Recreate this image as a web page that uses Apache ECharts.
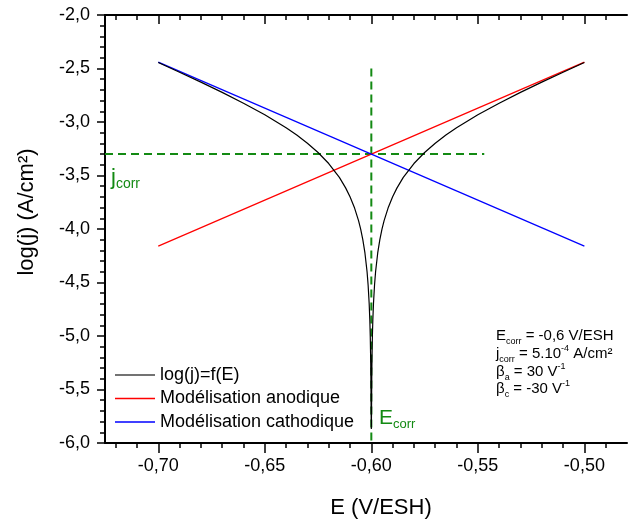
<!DOCTYPE html>
<html>
<head>
<meta charset="utf-8">
<script src="https://cdn.jsdelivr.net/npm/echarts@6/dist/echarts.min.js"></script>
<style>
html,body{margin:0;padding:0;background:#fff;}
#c{width:628px;height:520px;}
</style>
</head>
<body>
<div id="c"></div>
<script>
// ---- data ----
var xMajorTicks = [-0.70, -0.65, -0.60, -0.55, -0.50];
var xMinorTicks = [-0.72, -0.71, -0.69, -0.68, -0.67, -0.66, -0.64, -0.63, -0.62, -0.61,
                   -0.59, -0.58, -0.57, -0.56, -0.54, -0.53, -0.52, -0.51, -0.49];
var seriesNames = ['log(j)=f(E)', 'Modélisation anodique', 'Modélisation cathodique'];

var eBlack = [-0.70, -0.69, -0.68, -0.67, -0.66, -0.65, -0.64, -0.635, -0.63, -0.625,
              -0.62, -0.615, -0.612, -0.61, -0.608, -0.606, -0.605, -0.604, -0.603, -0.602,
              -0.6015, -0.601, -0.6007, -0.6005, -0.6003, -0.6002, -0.6001, -0.6,
              -0.5999, -0.5998, -0.5997, -0.5995, -0.5993, -0.599, -0.5985, -0.598, -0.597,
              -0.596, -0.595, -0.594, -0.592, -0.59, -0.588, -0.585, -0.58, -0.575,
              -0.57, -0.565, -0.56, -0.55, -0.54, -0.53, -0.52, -0.51, -0.50];
var logBlack = [-2.444, -2.535, -2.627, -2.723, -2.824, -2.932, -3.054, -3.122, -3.198, -3.285,
                -3.388, -3.518, -3.618, -3.698, -3.796, -3.922, -4.002, -4.099, -4.224, -4.400,
                -4.525, -4.701, -4.856, -5.002, -5.224, -5.400, -5.701, -5.870,
                -5.701, -5.400, -5.224, -5.002, -4.856, -4.701, -4.525, -4.400, -4.224,
                -4.099, -4.002, -3.922, -3.796, -3.698, -3.618, -3.518, -3.388, -3.285,
                -3.198, -3.122, -3.054, -2.932, -2.824, -2.723, -2.627, -2.535, -2.444];

var eLines = [-0.70, -0.50];
var logAnodic = [-4.16, -2.44];
var logCathodic = [-2.44, -4.16];

var eCorr = -0.60;
var logJcorr = -3.30;
var hDashE = [-0.725, -0.547];
var vDashLog = [-2.50, -6.00];

function pairs(xs, ys){ return xs.map(function(x,i){ return [x, ys[i]]; }); }

var FONT = 'Liberation Sans, Arial, sans-serif';
var GREEN = '#138a13';
var chart = echarts.init(document.getElementById('c'));

var baseX = { type:'value', min:-0.725, max:-0.48, splitLine:{show:false} };
function ax(o){ return Object.assign({}, baseX, o); }

chart.setOption({
  animation:false,
  backgroundColor:'#fff',
  grid:{ left:105, top:15, width:522, height:428, containLabel:false },
  xAxis:[
    ax({ position:'bottom',
         axisLine:{ show:true, onZero:false, lineStyle:{ color:'#000', width:2 } },
         axisTick:{ show:true, inside:false, length:10, customValues:xMajorTicks, lineStyle:{ color:'#000', width:1.5 } },
         axisLabel:{ show:true, customValues:xMajorTicks, margin:14, color:'#000', fontSize:18, fontFamily:FONT,
                     formatter:function(v){ return v.toFixed(2).replace('.', ','); } } }),
    ax({ position:'bottom',
         axisLine:{ show:false, onZero:false },
         axisTick:{ show:true, inside:false, length:5, customValues:xMinorTicks, lineStyle:{ color:'#000', width:1.5 } },
         axisLabel:{ show:false } }),
    ax({ position:'top',
         axisLine:{ show:true, onZero:false, lineStyle:{ color:'#000', width:2 } },
         axisTick:{ show:true, inside:true, length:9, customValues:xMajorTicks, lineStyle:{ color:'#000', width:1.5 } },
         axisLabel:{ show:false } }),
    ax({ position:'top',
         axisLine:{ show:false, onZero:false },
         axisTick:{ show:true, inside:true, length:5, customValues:xMinorTicks, lineStyle:{ color:'#000', width:1.5 } },
         axisLabel:{ show:false } })
  ],
  yAxis:[{
    type:'value', min:-6, max:-2, interval:0.5, position:'left',
    splitLine:{ show:false },
    axisLine:{ show:true, onZero:false, lineStyle:{ color:'#000', width:2 } },
    axisTick:{ show:true, inside:false, length:8, lineStyle:{ color:'#000', width:1.5 } },
    minorTick:{ show:true, splitNumber:5, length:5, lineStyle:{ color:'#000', width:1.5 } },
    axisLabel:{ margin:15, color:'#000', fontSize:18, fontFamily:FONT,
                formatter:function(v){ return v.toFixed(1).replace('.', ','); } }
  }],
  legend:{
    data:seriesNames.map(function(n){ return { name:n, icon:'rect' }; }),
    orient:'vertical', left:115, top:366, padding:0,
    itemWidth:40, itemHeight:1.5, itemGap:5.5,
    textStyle:{ color:'#000', fontSize:18, fontFamily:FONT }
  },
  series:[
    { name:'hdash', type:'line', xAxisIndex:0, yAxisIndex:0, data:pairs(hDashE, [logJcorr, logJcorr]),
      symbol:'none', silent:true, lineStyle:{ color:GREEN, width:2, type:[8,5] }, z:1 },
    { name:'vdash', type:'line', xAxisIndex:0, yAxisIndex:0, data:pairs([eCorr, eCorr], vDashLog),
      symbol:'none', silent:true, lineStyle:{ color:GREEN, width:2, type:[8,5] }, z:1 },
    { name:seriesNames[0], type:'line', xAxisIndex:0, yAxisIndex:0, data:pairs(eBlack, logBlack),
      symbol:'none', lineStyle:{ color:'#000', width:1.2 }, itemStyle:{ color:'#444' }, z:3 },
    { name:seriesNames[1], type:'line', xAxisIndex:0, yAxisIndex:0, data:pairs(eLines, logAnodic),
      symbol:'none', lineStyle:{ color:'#ff0000', width:1.2 }, itemStyle:{ color:'#ff0000' }, z:2 },
    { name:seriesNames[2], type:'line', xAxisIndex:0, yAxisIndex:0, data:pairs(eLines, logCathodic),
      symbol:'none', lineStyle:{ color:'#0000ff', width:1.2 }, itemStyle:{ color:'#0000ff' }, z:2 }
  ],
  graphic:[
    { type:'text', x:381, y:508, style:{ text:'E (V/ESH)', fill:'#000', font:'22px ' + FONT, align:'center', verticalAlign:'middle' } },
    { type:'text', x:27, y:212, rotation:Math.PI/2, style:{ text:'log(j) (A/cm²)', fill:'#000', font:'22px ' + FONT, align:'center', verticalAlign:'middle' } },
    { type:'text', x:111, y:178, style:{ text:'{m|j}{s|corr}', align:'left', verticalAlign:'middle',
      rich:{ m:{ fontSize:22, fontFamily:FONT, fill:GREEN, lineHeight:26 },
             s:{ fontSize:14, fontFamily:FONT, fill:GREEN, lineHeight:6, verticalAlign:'bottom' } } } },
    { type:'text', x:379, y:418, style:{ text:'{m|E}{s|corr}', align:'left', verticalAlign:'middle',
      rich:{ m:{ fontSize:21, fontFamily:FONT, fill:GREEN, lineHeight:26 },
             s:{ fontSize:13, fontFamily:FONT, fill:GREEN, lineHeight:6, verticalAlign:'bottom' } } } },
    { type:'group', children:[
      { type:'text', x:496, y:336, style:{ text:'{m|E}{s|corr}{m| = -0,6 V/ESH}', align:'left', verticalAlign:'middle',
        rich:{ m:{ fontSize:15, fontFamily:FONT, fill:'#000', lineHeight:20 }, s:{ fontSize:9, fontFamily:FONT, fill:'#000', lineHeight:10, verticalAlign:'bottom' } } } },
      { type:'text', x:496, y:354, style:{ text:'{m|j}{s|corr}{m| = 5.10}{p|-4}{m| A/cm²}', align:'left', verticalAlign:'middle',
        rich:{ m:{ fontSize:15, fontFamily:FONT, fill:'#000', lineHeight:20 }, s:{ fontSize:9, fontFamily:FONT, fill:'#000', lineHeight:10, verticalAlign:'bottom' },
               p:{ fontSize:9, fontFamily:FONT, fill:'#000', lineHeight:12, verticalAlign:'top' } } } },
      { type:'text', x:496, y:372, style:{ text:'{m|β}{s|a}{m| = 30 V}{p|-1}', align:'left', verticalAlign:'middle',
        rich:{ m:{ fontSize:15, fontFamily:FONT, fill:'#000', lineHeight:20 }, s:{ fontSize:9, fontFamily:FONT, fill:'#000', lineHeight:10, verticalAlign:'bottom' },
               p:{ fontSize:9, fontFamily:FONT, fill:'#000', lineHeight:12, verticalAlign:'top' } } } },
      { type:'text', x:496, y:389, style:{ text:'{m|β}{s|c}{m| = -30 V}{p|-1}', align:'left', verticalAlign:'middle',
        rich:{ m:{ fontSize:15, fontFamily:FONT, fill:'#000', lineHeight:20 }, s:{ fontSize:9, fontFamily:FONT, fill:'#000', lineHeight:10, verticalAlign:'bottom' },
               p:{ fontSize:9, fontFamily:FONT, fill:'#000', lineHeight:12, verticalAlign:'top' } } } }
    ]}
  ]
});
</script>
</body>
</html>
